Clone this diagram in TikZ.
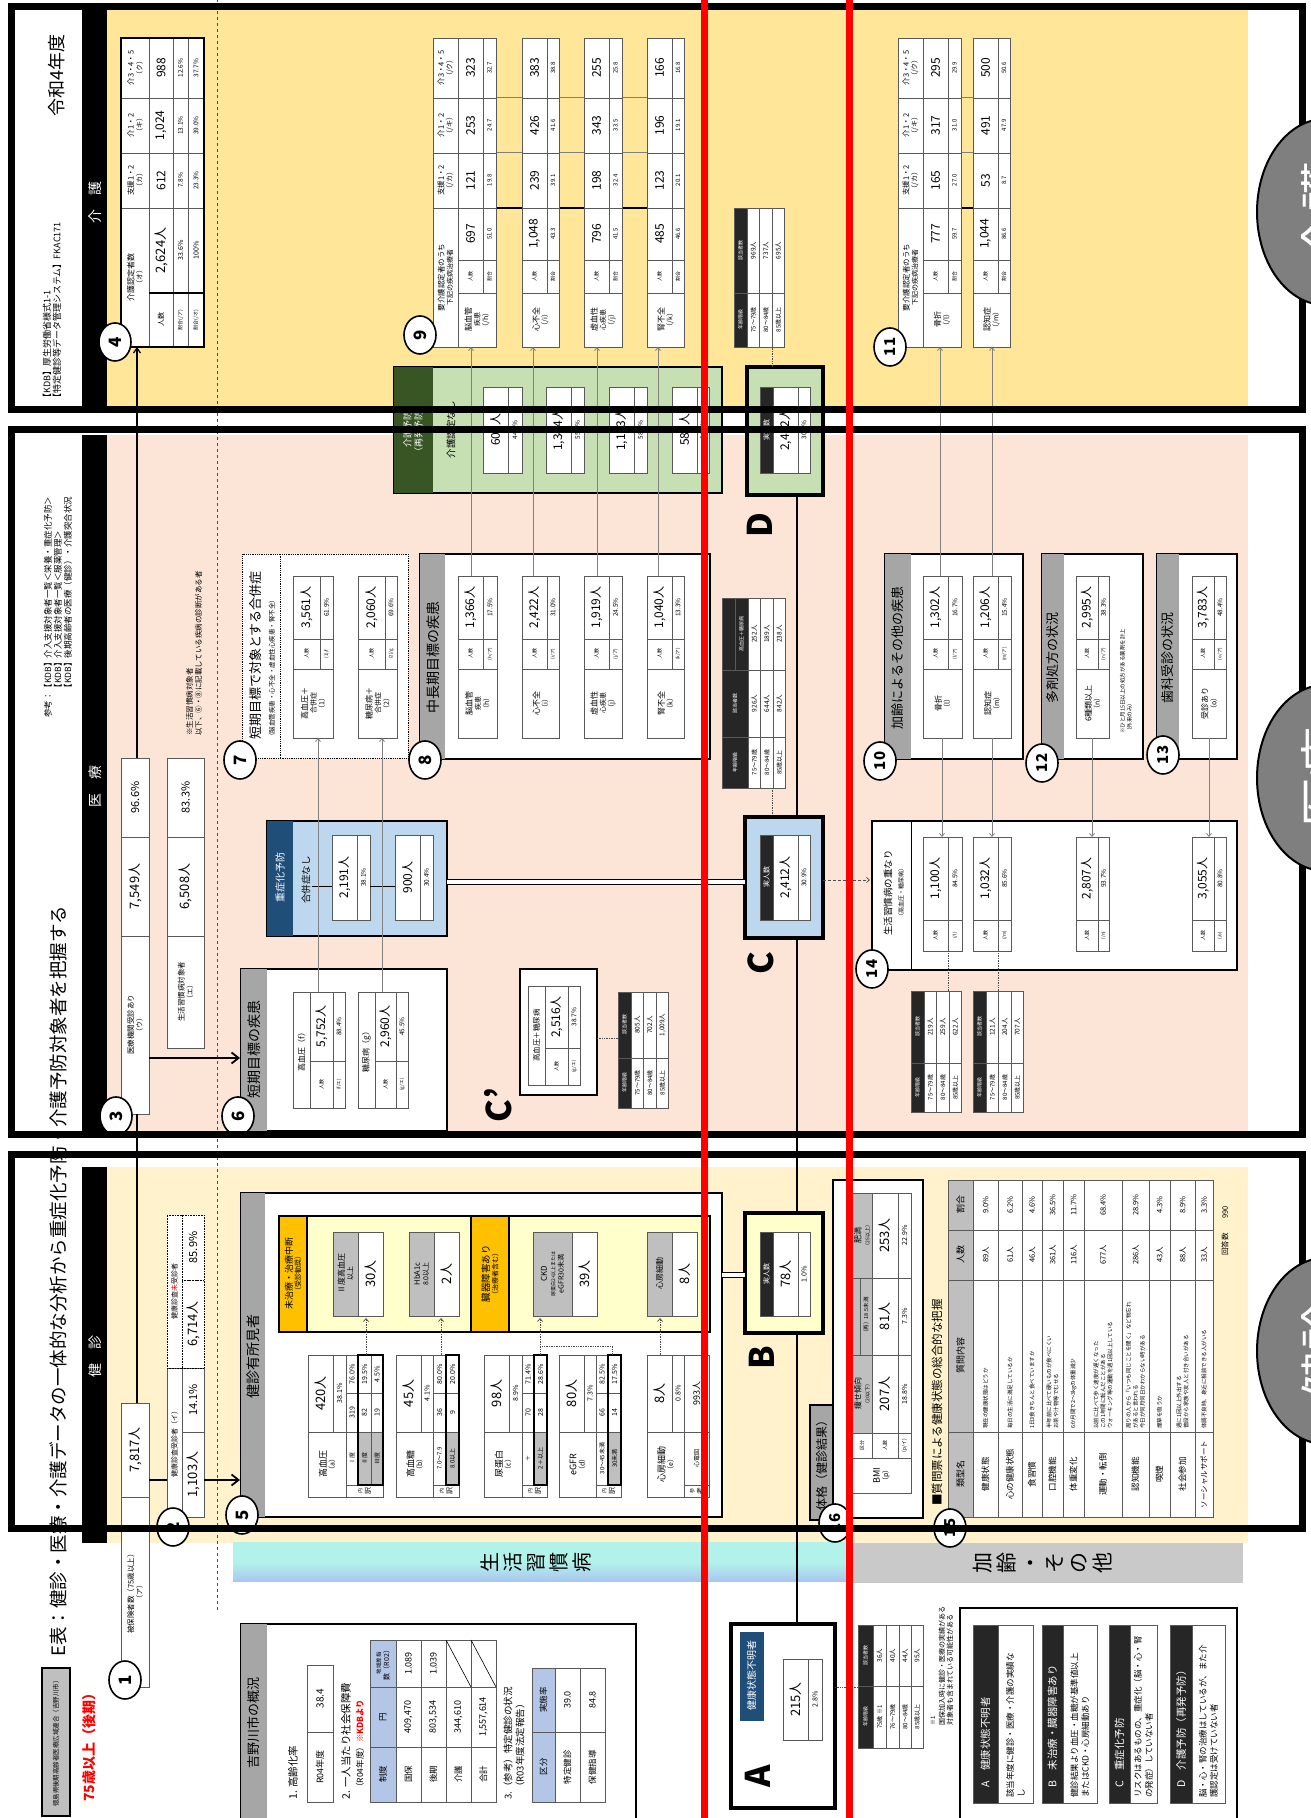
\documentclass[tikz,border=0pt]{standalone}
\usepackage{fontspec}
\setmainfont{Noto Sans CJK JP}
\usetikzlibrary{positioning,arrows.meta,shapes.geometric}

\definecolor{kcream}{HTML}{FFF2CC}
\definecolor{kpink}{HTML}{FCE4D6}
\definecolor{kyellow}{HTML}{FFE699}
\definecolor{korange}{HTML}{FFC000}
\definecolor{klyellow}{HTML}{FFFFCC}
\definecolor{khead}{HTML}{BFBFBF}
\definecolor{kgrayhd}{HTML}{A6A6A6}
\definecolor{kdblue}{HTML}{1F4E79}
\definecolor{klblue}{HTML}{BDD7EE}
\definecolor{kdgreen}{HTML}{375623}
\definecolor{klgreen}{HTML}{C6E0B4}
\definecolor{ktblue}{HTML}{B4C6E7}
\definecolor{kcyan}{HTML}{B2F2EA}
\definecolor{kband}{HTML}{A9C4F0}
\definecolor{kgray}{HTML}{C9C9C9}
\definecolor{kell}{HTML}{7F7F7F}
\definecolor{kdark}{HTML}{262626}

\newcommand\fz[1]{\fontsize{#1}{\fpeval{1.2*#1}}\selectfont}
% table cell: [opts]{u1}{r1}{u2}{r2}{text}
\newcommand\cel[6][]{\draw[tb,#1] ({#2},{-(#3)}) rectangle ({#4},{-(#5)});
  \node[tt] at ({((#2)+(#4))/2},{-((#3)+(#5))/2}) {#6};}
% kaigo value column
\newcommand\kv[7]{\cel{#4}{#1}{#5}{#2}{\fz{12}#6}\cel{#4}{#2}{#5}{#3}{\fz{6}#7}}
\newcommand\kn[4]{\cel{1471}{#1}{1525}{#3}{\fz{8}#4}\cel{1525}{#1}{1558}{#2}{\fz{5}人数}\cel{1525}{#2}{1558}{#3}{\fz{5}割合}}
% iryo tables
\newcommand\ltab[7]{\cel{1080}{#1}{1149}{#3}{\fz{8}#4}\cel{1149}{#1}{1179}{#2}{\fz{5}人数}\cel{1149}{#2}{1179}{#3}{\fz{4.5}#5}\cel{1179}{#1}{1242}{#2}{\fz{12}#6}\cel{1179}{#2}{1242}{#3}{\fz{6.5}#7}}
\newcommand\otab[6]{\cel{867}{#1}{898}{#2}{\fz{5}人数}\cel{867}{#2}{898}{#3}{\fz{4.5}#4}\cel{898}{#1}{981}{#2}{\fz{12}#5}\cel{898}{#2}{981}{#3}{\fz{6.5}#6}}
\newcommand\atab[7]{\cel[fill=kdark]{#1}{#4}{#2}{#4+13}{\textcolor{white}{\fz{5}年齢階級}}%
  \cel[fill=kdark]{#2}{#4}{#3}{#4+13}{\textcolor{white}{\fz{5}該当者数}}%
  \cel{#1}{#4+13}{#2}{#4+25.5}{\fz{6}75～79歳}\cel{#2}{#4+13}{#3}{#4+25.5}{\fz{6.5}#5}%
  \cel{#1}{#4+25.5}{#2}{#4+38}{\fz{6}80～84歳}\cel{#2}{#4+25.5}{#3}{#4+38}{\fz{6.5}#6}%
  \cel{#1}{#4+38}{#2}{#4+50.5}{\fz{6}85歳以上}\cel{#2}{#4+38}{#3}{#4+50.5}{\fz{6.5}#7}}
% kenshin risk tables
\newcommand\rhead[7]{\cel{321}{#1}{386}{#3}{\fz{9}#5}\cel{386}{#1}{463}{#2}{\fz{13}#6}\cel{386}{#2}{463}{#3}{\fz{7}#7}\cel{321}{#3}{333}{#4}{\fz{5}内\\訳}}
\newcommand\rrow[6][]{\cel[#1]{333}{#2}{386}{#3}{\fz{6}#4}\cel{386}{#2}{425}{#3}{\fz{7}#5}\cel{425}{#2}{463}{#3}{\fz{7}#6}}
% questionnaire row
\newcommand\qrow[6]{\cel{301}{#1}{386}{#2}{\fz{8.5}#3}\draw[tb] (386,-#1) rectangle (538,-#2);
  \node[tt, anchor=west, align=left, font=\fontsize{5.5}{7}\selectfont] at (389,{-(#1+#2)/2}) {#4};
  \cel{538}{#1}{588}{#2}{\fz{7.5}#5}\cel{588}{#1}{638}{#2}{\fz{7.5}#6}}
% legend item
\newcommand\lgd[6]{\cel[fill=kdark]{15}{#1}{193}{#2}{}\node[tt, anchor=west, text=white, font=\fz{10.5}] at (30,{-(#1+#2)/2}) {#5};
  \cel{15}{#2}{193}{#3}{}\node[tt, anchor=west, align=left, font=\fontsize{8.5}{11}\selectfont] at (20,{-(#2+#3)/2}) {#6};}

\begin{document}
\begin{tikzpicture}[x=1pt,y=1pt,
  tb/.style={draw=black!65, line width=0.6, fill=white},
  tt/.style={inner sep=0, align=center, font=\fz{7}},
  cn/.style={ellipse, draw, line width=1.6, fill=white, minimum width=38, minimum height=32, inner sep=0, font=\fz{17}\bfseries},
  big/.style={inner sep=0, font=\fz{34}\bfseries},
  band/.style={text=white, inner sep=0, font=\fz{14}},
  frame/.style={draw, line width=7},
  gline/.style={draw=black!50, line width=0.8},
  garrow/.style={gline, -{Straight Barb[length=3,width=5]}},
  dotl/.style={draw=black!70, line width=0.7, densely dashed},
  ell/.style={ellipse, draw, line width=2, fill=kell, minimum width=186, minimum height=136, text=white, font=\fz{50}},
  redl/.style={draw=red, line width=7},
]
\useasboundingbox (0,0) rectangle (1311,1818);
\fill[white] (0,0) rectangle (1311,1818);
\begin{scope}[rotate=90, transform shape]
% ---- backgrounds
\fill[kcream] (275,-107) rectangle (651,-1248);
\fill[kpink] (681,-107) rectangle (1383,-1248);
\fill[kyellow] (1408,-107) rectangle (1813,-1248);
\fill[black] (275,-82) rectangle (651,-107);
\fill[black] (681,-82) rectangle (1383,-107);
\fill[black] (1408,-82) rectangle (1813,-107);
\node[band] (bkenshin) at (461,-95) {健　診};
\node[band] (biryo) at (1031,-95) {医　療};
\node[band] (bkaigo) at (1615,-95) {介　護};
\shade[top color=kcyan, bottom color=kband, middle color=kcyan] (236,-233) rectangle (275,-847);
\node[tt, font=\fontsize{20}{23}\selectfont] (tseikatsu) at (255,-536) {生\\活\\習\\慣\\病};
\fill[kgray] (235,-852) rectangle (275,-1243);
\node[tt, font=\fontsize{21}{24}\selectfont] (tkarei) at (255,-1043) {加\\齢\\・\\そ\\の\\他};
\draw[dotl, dashed] (208,-217) -- (1818,-217);

% ---- title block
\node[anchor=west, inner sep=0, font=\fz{18.5}] (title) at (161,-58) {E表：健診・医療・介護データの一体的な分析から重症化予防・介護予防対象者を把握する};
\draw[fill=khead, line width=1.5] (2,-42) rectangle (150,-70);
\node[tt, font=\fz{6.5}] (pref) at (76,-56) {徳島県後期高齢者医療広域連合（吉野川市）};
\node[anchor=west, inner sep=0, text=red, font=\fz{14}\bfseries] (age75) at (16,-89) {75歳以上（後期）};
\node[anchor=west, inner sep=0, align=left, font=\fontsize{8.5}{10}\selectfont] (kdbref) at (1100,-58) {参考：【KDB】介入支援対象者一覧＜栄養・重症化予防＞\\\phantom{参考：}【KDB】介入支援対象者一覧＜服薬管理＞\\\phantom{参考：}【KDB】後期高齢者の医療（健診）・介護突合状況};
\node[anchor=west, inner sep=0, align=left, font=\fontsize{9}{10}\selectfont] (kdbsrc) at (1415,-52) {【KDB】厚生労働省様式1-1\\【特定健診等データ管理システム】FKAC171};
\node[inner sep=0, font=\fz{18}] (year) at (1742,-57) {令和4年度};

% ---- node 1, 2
\cel{131}{121}{321}{149}{\fz{7.5}被保険者数（75歳以上）\\（ア）}
\cel{321}{121}{415}{149}{\fz{13}7,817人}
\cel{301}{167}{450}{182}{\fz{7}健康診査受診者（イ）}
\cel{301}{182}{386}{204}{\fz{13}1,103人}
\cel{386}{182}{450}{204}{\fz{11}14.1\%}
\cel[densely dotted, draw=black]{450}{167}{603}{182}{\fz{7}健康診査\textcolor{red}{未}受診者}
\cel[densely dotted, draw=black]{450}{182}{538}{204}{\fz{13}6,714人}
\cel[densely dotted, draw=black]{538}{182}{603}{204}{\fz{11}85.9\%}
\coordinate (n1e) at (415,-137);
\coordinate (n1b) at (338,-149);
\coordinate (n2t) at (338,-167);
\coordinate (n2b) at (338,-204);
\coordinate (k5t) at (338,-240);
\draw[line width=1.2] (n1b) -- (n2t);
\draw[line width=1.8, -{Straight Barb[length=7,width=11]}] (n2b) -- (k5t);

% ---- node 3 (iryo)
\cel{704}{121}{882}{149}{\fz{7.5}医療機関受診あり\\（ウ）}
\cel{882}{121}{981}{149}{\fz{13}7,549人}
\cel{981}{121}{1060}{149}{\fz{11}96.6\%}
\cel{770}{167}{882}{204}{\fz{7.5}生活習慣病対象者\\（エ）}
\cel{882}{167}{981}{204}{\fz{13}6,508人}
\cel{981}{167}{1060}{204}{\fz{11}83.3\%}
\node[anchor=west, inner sep=0, align=left, font=\fontsize{7.5}{9}\selectfont] (note3) at (1082,-194) {※生活習慣病対象者\\以下、⑥・⑧に記載している疾病の診断がある者};
\coordinate (n3w) at (704,-137);
\coordinate (n3e) at (1060,-137);
\coordinate (n3b) at (760,-149);
\coordinate (k6t) at (760,-240);
\draw[line width=1.2] (n1e) -- (n3w);
\draw[line width=1.2, -{Straight Barb[length=5,width=7]}] (n3e) -- (1471,-137);
\draw[line width=1.8, -{Straight Barb[length=7,width=11]}] (n3b) -- (k6t);

% ---- node 4 (kaigo nintei)
\cel{1471}{121}{1610}{149}{\fz{8}介護認定者数\\（オ）}
\cel{1471}{149}{1525}{173}{\fz{7}人数}
\cel{1525}{149}{1610}{173}{\fz{13}2,624人}
\cel{1471}{173}{1525}{188}{\fz{5}割合(/ア)}
\cel{1525}{173}{1610}{188}{\fz{7}33.6\%}
\cel{1471}{188}{1525}{204}{\fz{5}割合(/オ)}
\cel{1525}{188}{1610}{204}{\fz{7}100\%}
\cel{1610}{121}{1665}{149}{\fz{7.5}支援1・2\\（カ）}
\cel{1665}{121}{1720}{149}{\fz{7.5}介1・2\\（キ）}
\cel{1720}{121}{1780}{149}{\fz{7.5}介3・4・5\\（ク）}
\cel{1610}{149}{1665}{173}{\fz{12}612}
\cel{1665}{149}{1720}{173}{\fz{12}1,024}
\cel{1720}{149}{1780}{173}{\fz{12}988}
\cel{1610}{173}{1665}{188}{\fz{6.5}7.8\%}
\cel{1665}{173}{1720}{188}{\fz{6.5}13.1\%}
\cel{1720}{173}{1780}{188}{\fz{6.5}12.6\%}
\cel{1610}{188}{1665}{204}{\fz{6.5}23.3\%}
\cel{1665}{188}{1720}{204}{\fz{6.5}39.0\%}
\cel{1720}{188}{1780}{204}{\fz{6.5}37.7\%}
\draw[line width=2] (1471,-121) rectangle (1780,-204);
\draw[line width=2] (1525,-149) -- (1525,-204);

% ---- node 9 / 11 (kaigo diseases)
\draw[black!50, line width=0.8] (1666,-458) -- (1666,-684) (1721,-458) -- (1721,-684);
\draw[line width=1.2] (1610,-458) -- (1610,-684);
\cel{1471}{433}{1610}{458}{\fz{7.5}要介護認定者のうち\\下記の疾病治療者}
\cel{1610}{433}{1665}{458}{\fz{7.5}支援1・2\\（/カ）}
\cel{1665}{433}{1720}{458}{\fz{7.5}介1・2\\（/キ）}
\cel{1720}{433}{1780}{458}{\fz{7.5}介3・4・5\\（/ク）}
\kn{458}{483}{496}{脳血管\\疾患\\（/h）}
\kv{458}{483}{496}{1558}{1610}{697}{51.0}\kv{458}{483}{496}{1610}{1665}{121}{19.8}
\kv{458}{483}{496}{1665}{1720}{253}{24.7}\kv{458}{483}{496}{1720}{1780}{323}{32.7}
\kn{522}{547}{559}{心不全\\（/i）}
\kv{522}{547}{559}{1558}{1610}{1,048}{43.3}\kv{522}{547}{559}{1610}{1665}{239}{39.1}
\kv{522}{547}{559}{1665}{1720}{426}{41.6}\kv{522}{547}{559}{1720}{1780}{383}{38.8}
\kn{584}{609}{622}{虚血性\\心疾患\\（/j）}
\kv{584}{609}{622}{1558}{1610}{796}{41.5}\kv{584}{609}{622}{1610}{1665}{198}{32.4}
\kv{584}{609}{622}{1665}{1720}{343}{33.5}\kv{584}{609}{622}{1720}{1780}{255}{25.8}
\kn{647}{672}{684}{腎不全\\（/k）}
\kv{647}{672}{684}{1558}{1610}{485}{46.6}\kv{647}{672}{684}{1610}{1665}{123}{20.1}
\kv{647}{672}{684}{1665}{1720}{196}{19.1}\kv{647}{672}{684}{1720}{1780}{166}{16.8}
\draw[black!50, line width=0.8] (1666,-923) -- (1666,-1010) (1721,-923) -- (1721,-1010);
\draw[line width=1.2] (1610,-923) -- (1610,-1010);
\cel{1471}{898}{1610}{923}{\fz{7.5}要介護認定者のうち\\下記の疾病治療者}
\cel{1610}{898}{1665}{923}{\fz{7.5}支援1・2\\（/カ）}
\cel{1665}{898}{1720}{923}{\fz{7.5}介1・2\\（/キ）}
\cel{1720}{898}{1780}{923}{\fz{7.5}介3・4・5\\（/ク）}
\kn{923}{948}{961}{骨折\\（/l）}
\kv{923}{948}{961}{1558}{1610}{777}{59.7}\kv{923}{948}{961}{1610}{1665}{165}{27.0}
\kv{923}{948}{961}{1665}{1720}{317}{31.0}\kv{923}{948}{961}{1720}{1780}{295}{29.9}
\kn{973}{998}{1010}{認知症\\（/m）}
\kv{973}{998}{1010}{1558}{1610}{1,044}{86.6}\kv{973}{998}{1010}{1610}{1665}{53}{8.7}
\kv{973}{998}{1010}{1665}{1720}{491}{47.9}\kv{973}{998}{1010}{1720}{1780}{500}{50.6}
\atab{1471}{1525}{1610}{734}{969人}{737人}{695人}

% ---- kaigo yobo (green) and D
\draw[line width=2, fill=klgreen] (1325,-394) rectangle (1451,-722);
\fill[kdgreen] (1325,-394) rectangle (1451,-433);
\node[tt, text=white, font=\fz{9}] (kyobo) at (1388,-413) {介護予防\\（再発予防）};
\node[tt, font=\fz{9.5}] (knashi) at (1388,-451) {介護認定なし};
\cel{1345}{483}{1431}{508}{\fz{12}609人}\cel{1345}{508}{1431}{522}{\fz{6.5}44.6\%}
\cel{1345}{546}{1431}{571}{\fz{12}1,344人}\cel{1345}{571}{1431}{584}{\fz{6.5}55.5\%}
\cel{1345}{609}{1431}{634}{\fz{12}1,113人}\cel{1345}{634}{1431}{647}{\fz{6.5}58.0\%}
\cel{1345}{672}{1431}{697}{\fz{12}585人}\cel{1345}{697}{1431}{709}{\fz{6.5}56.3\%}
\draw[line width=4, fill=klgreen] (1323,-747) rectangle (1451,-823);
\cel[fill=kdark]{1345}{760}{1431}{773}{\textcolor{white}{\fz{7}実人数}}
\cel{1345}{773}{1431}{798}{\fz{12}2,412人}\cel{1345}{798}{1431}{810}{\fz{6.5}30.9\%}
\node[big] (lD) at (1293,-760) {D};
\draw[dotl, densely dotted] (1451,-772) -- (1471,-772);

% ---- node 6 and C'
\draw[line width=1.5, fill=white] (687,-241) rectangle (849,-447);
\fill[kgrayhd] (687,-241) rectangle (849,-267);
\node[tt, font=\fz{14}] (h6) at (768,-254) {短期目標の疾患};
\cel{710}{293}{826}{310}{\fz{8}高血圧（f）}
\cel{710}{310}{757}{333}{\fz{5}人数}\cel{757}{310}{826}{333}{\fz{12}5,752人}
\cel{710}{333}{757}{345}{\fz{4.5}(f/エ)}\cel{757}{333}{826}{345}{\fz{6.5}88.4\%}
\cel{710}{358}{826}{375}{\fz{8}糖尿病（g）}
\cel{710}{375}{757}{396}{\fz{5}人数}\cel{757}{375}{826}{396}{\fz{12}2,960人}
\cel{710}{396}{757}{408}{\fz{4.5}(g/エ)}\cel{757}{396}{826}{408}{\fz{6.5}45.5\%}
\draw[line width=1.5, fill=white] (723,-520) rectangle (849,-597);
\cel{733}{528}{832}{545}{\fz{7.5}高血圧＋糖尿病}
\cel{733}{545}{770}{568}{\fz{5}人数}\cel{770}{545}{832}{568}{\fz{12}2,516人}
\cel{733}{568}{770}{580}{\fz{4.5}(g/エ)}\cel{770}{568}{832}{580}{\fz{6.5}38.7\%}
\atab{710}{760}{826}{618}{805人}{702人}{1,009人}
\draw[dotl, densely dotted] (780,-597) -- (780,-618);
\node[big] (lCd) at (713,-498) {C'};

% ---- juushouka yobo
\draw[line width=2, fill=klblue] (882,-267) rectangle (997,-447);
\fill[kdblue] (882,-267) rectangle (997,-293);
\node[tt, text=white, font=\fz{10}] (hjyu) at (940,-280) {重症化予防};
\node[tt, font=\fz{9.5}] (gnashi) at (938,-306) {合併症なし};
\cel{898}{332}{983}{357}{\fz{12}2,191人}\cel{898}{357}{983}{370}{\fz{6.5}38.1\%}
\cel{898}{395}{983}{420}{\fz{12}900人}\cel{898}{420}{983}{433}{\fz{6.5}30.4\%}
\draw[line width=0.8] (932,-312) -- (932,-332) (932,-370) -- (932,-395);

% ---- node 7
\draw[line width=0.8, densely dotted, fill=white] (1060,-242) rectangle (1264,-408);
\draw[line width=0.8, densely dotted] (1060,-280) -- (1264,-280);
\node[anchor=west, inner sep=0, font=\fz{13}] (h7) at (1078,-256) {短期目標で対象とする合併症};
\node[anchor=west, inner sep=0, font=\fz{6.5}] (s7) at (1078,-272) {（脳血管疾患・心不全・虚血性心疾患・腎不全）};
\ltab{293}{320}{333}{高血圧＋\\合併症\\（1）}{(1)/f}{3,561人}{61.9\%}
\ltab{358}{385}{397}{糖尿病＋\\合併症\\（2）}{(2)/g}{2,060人}{69.6\%}

% ---- node 8
\draw[line width=1.5, fill=white] (1059,-420) rectangle (1264,-710);
\fill[kgrayhd] (1059,-420) rectangle (1264,-445);
\node[tt, font=\fz{14}] (h8) at (1160,-433) {中長期目標の疾患};
\ltab{458}{483}{497}{脳血管\\疾患\\（h）}{(h/ア)}{1,366人}{17.5\%}
\ltab{522}{547}{559}{心不全\\（i）}{(i/ア)}{2,422人}{31.0\%}
\ltab{584}{609}{622}{虚血性\\心疾患\\（j）}{(j/ア)}{1,919人}{24.5\%}
\ltab{647}{672}{684}{腎不全\\（k）}{(k/ア)}{1,040人}{13.3\%}

% ---- C age table and C box
\cel[fill=kdark]{1030}{722}{1081}{748}{\textcolor{white}{\fz{5}年齢階級}}
\cel[fill=kdark]{1081}{722}{1148}{748}{\textcolor{white}{\fz{5}該当者数}}
\cel[fill=kdark]{1148}{722}{1220}{735}{}
\cel[fill=kdark]{1148}{735}{1220}{748}{\textcolor{white}{\fz{5}高血圧＋糖尿病}}
\cel{1030}{748}{1081}{760.5}{\fz{6}75～79歳}\cel{1081}{748}{1148}{760.5}{\fz{6.5}926人}\cel{1148}{748}{1220}{760.5}{\fz{6.5}252人}
\cel{1030}{760.5}{1081}{773}{\fz{6}80～84歳}\cel{1081}{760.5}{1148}{773}{\fz{6.5}644人}\cel{1148}{760.5}{1220}{773}{\fz{6.5}189人}
\cel{1030}{773}{1081}{785.5}{\fz{6}85歳以上}\cel{1081}{773}{1148}{785.5}{\fz{6.5}842人}\cel{1148}{773}{1220}{785.5}{\fz{6.5}238人}
\draw[dotl, densely dotted] (1030,-772) -- (1001,-772);
\draw[line width=4, fill=klblue] (880,-745) rectangle (1001,-823);
\cel[fill=kdark]{898}{760}{983}{773}{\textcolor{white}{\fz{7}実人数}}
\cel{898}{773}{983}{798}{\fz{12}2,412人}\cel{898}{798}{983}{810}{\fz{6.5}30.9\%}
\node[big] (lC) at (855,-761) {C};
\draw[double, double distance=4.5, line width=1.2] (936,-447) -- (936,-745);
\draw[dotl, -{Straight Barb[length=3,width=5]}] (938,-823) -- (938,-870);

% ---- node 10, 12, 13
\draw[line width=1.5, fill=white] (1059,-885) rectangle (1264,-1023);
\fill[kgrayhd] (1059,-885) rectangle (1264,-911);
\node[tt, font=\fz{13}] (h10) at (1160,-898) {加齢によるその他の疾患};
\ltab{923}{948}{962}{骨折\\（l）}{(l/ア)}{1,302人}{16.7\%}
\ltab{973}{998}{1011}{認知症\\（m）}{(m/ア)}{1,206人}{15.4\%}
\draw[line width=1.5, fill=white] (1059,-1042) rectangle (1264,-1143);
\fill[kgrayhd] (1059,-1042) rectangle (1264,-1064);
\node[tt, font=\fz{13}] (h12) at (1160,-1053) {多剤処方の状況};
\ltab{1076}{1098}{1109}{6種類以上\\（n）}{(n/ア)}{2,995人}{38.3\%}
\node[anchor=west, inner sep=0, align=left, font=\fontsize{5.5}{7}\selectfont] (note12) at (1084,-1126) {※ひと月15日以上の処方がある薬剤を計上\\（外来のみ）};
\draw[line width=1.5, fill=white] (1059,-1157) rectangle (1264,-1237);
\fill[kgrayhd] (1059,-1157) rectangle (1264,-1179);
\node[tt, font=\fz{13}] (h13) at (1160,-1168) {歯科受診の状況};
\ltab{1192}{1214}{1226}{受診あり\\（o）}{(o/ア)}{3,783人}{48.4\%}

% ---- node 14
\draw[line width=1.5, fill=white] (848,-872) rectangle (997,-1237);
\draw[line width=1] (848,-911) -- (997,-911);
\node[tt, font=\fz{9.5}] (h14) at (925,-888) {生活習慣病の重なり};
\node[tt, font=\fz{6}] (s14) at (925,-901) {（高血圧・糖尿病）};
\otab{923}{948}{962}{(/l)}{1,100人}{84.5\%}
\otab{973}{998}{1011}{(/m)}{1,032人}{85.6\%}
\otab{1076}{1098}{1109}{(/n)}{2,807人}{93.7\%}
\otab{1192}{1214}{1226}{(/o)}{3,055人}{80.8\%}
\atab{706}{755}{827}{911}{219人}{259人}{622人}
\atab{706}{755}{827}{973}{121人}{204人}{707人}
\draw[dotl, densely dotted] (827,-948) -- (867,-948) (827,-998) -- (867,-998);

% ---- iryo connectors
\draw[garrow] (826,-318) -- (1080,-318);
\draw[garrow] (826,-382) -- (1080,-382);
\draw[garrow] (1242,-471) -- (1471,-471);
\draw[garrow] (1242,-533) -- (1471,-533);
\draw[garrow] (1242,-597) -- (1471,-597);
\draw[garrow] (1242,-658) -- (1471,-658);
\draw[garrow] (1242,-940) -- (1471,-940);
\draw[garrow] (1242,-992) -- (1471,-992);
\draw[garrow] (1080,-942) -- (981,-942);
\draw[garrow] (1080,-992) -- (981,-992);
\draw[garrow] (1080,-1092) -- (981,-1092);
\draw[garrow] (1080,-1209) -- (981,-1209);

% ---- kenshin box 5
\draw[line width=1.5, fill=white] (301,-241) rectangle (625,-722);
\fill[kgrayhd] (301,-241) rectangle (625,-265);
\node[tt, font=\fz{14}] (h5) at (461,-253) {健診有所見者};
\draw[line width=2, fill=klyellow] (486,-279) rectangle (602,-710);
\cel[fill=korange, draw=black, line width=1.5]{486}{279}{602}{307}{\fz{9}未治療・治療中断\\\fz{7}（受診勧奨）}
\cel[fill=korange, draw=black, line width=1.5]{486}{471}{602}{509}{\fz{9.5}臓器障害あり\\（治療者含む）}
\cel[fill=khead]{502}{333}{586}{358}{\fz{8}Ⅱ度高血圧\\以上}
\cel{502}{358}{586}{383}{\fz{13}30人}
\cel[fill=khead]{502}{409}{586}{434}{\fz{7.5}HbA1c\\8.0以上}
\cel{502}{434}{586}{459}{\fz{13}2人}
\cel[fill=khead]{502}{533}{586}{572}{\fz{8}CKD\\\fz{5}尿蛋白2+以上または\\eGFR30未満}
\cel{502}{572}{586}{597}{\fz{13}39人}
\cel[fill=khead]{502}{647}{586}{672}{\fz{8}心房細動}
\cel{502}{672}{586}{697}{\fz{13}8人}
\rhead{308}{333}{346}{383}{高血圧\\（a）}{420人}{38.1\%}
\rrow{346}{358}{Ⅰ度}{319}{76.0\%}
\rrow[fill=khead]{358}{371}{Ⅱ度}{82}{19.5\%}
\rrow[fill=khead]{371}{383}{Ⅲ度}{19}{4.5\%}
\draw[line width=1.5] (333,-358) rectangle (463,-383);
\rhead{396}{421}{433}{459}{高血糖\\（b）}{45人}{4.1\%}
\rrow{433}{446}{7.0～7.9}{36}{80.0\%}
\rrow[fill=khead]{446}{459}{8.0以上}{9}{20.0\%}
\draw[line width=1.5] (333,-446) rectangle (463,-459);
\rhead{484}{509}{522}{547}{尿蛋白\\（c）}{98人}{8.9\%}
\rrow{522}{534}{＋}{70}{71.4\%}
\rrow[fill=khead]{534}{547}{2＋以上}{28}{28.6\%}
\draw[line width=1.5] (333,-534) rectangle (463,-547);
\rhead{559}{584}{596}{621}{eGFR\\（d）}{80人}{7.3\%}
\rrow{596}{608}{30～45未満}{66}{82.5\%}
\rrow[fill=khead]{608}{621}{30未満}{14}{17.5\%}
\draw[line width=1.5] (333,-608) rectangle (463,-621);
\cel{321}{647}{386}{684}{\fz{9}心房細動\\（e）}
\cel{386}{647}{463}{672}{\fz{13}8人}
\cel{386}{672}{463}{684}{\fz{7}0.8\%}
\cel{321}{684}{333}{709}{\fz{5}参\\考}
\cel{333}{684}{386}{709}{\fz{6}心電図}
\cel{386}{684}{463}{709}{\fz{9}993人}
\draw[dotl, densely dotted, -{Straight Barb[length=3,width=5]}] (463,-366) -- (500,-366);
\draw[dotl, densely dotted, -{Straight Barb[length=3,width=5]}] (463,-441) -- (500,-441);
\draw[dotl, densely dotted, -{Straight Barb[length=3,width=5]}] (463,-540) -- (500,-540);
\draw[dotl, densely dotted] (463,-612) -- (472,-612) -- (472,-540);
\draw[dotl, densely dotted, -{Straight Barb[length=3,width=5]}] (463,-660) -- (500,-660);

% ---- B box
\draw[line width=4, fill=klyellow] (485,-745) rectangle (605,-823);
\cel[fill=kdark]{502}{760}{586}{773}{\textcolor{white}{\fz{7}実人数}}
\cel{502}{773}{586}{798}{\fz{13}78人}
\cel{502}{798}{586}{810}{\fz{7}1.0\%}
\node[big] (lB) at (460,-762) {B};
\draw[double, double distance=4.5, line width=1.2] (543,-722) -- (543,-745);
\draw[line width=1.5] (1323,-797) -- (1001,-797) (880,-797) -- (605,-797) (485,-797) -- (194,-797);

% ---- body size (16)
\draw[line width=1.5, fill=white] (300,-833) rectangle (638,-923);
\cel[fill=kgrayhd, draw=black, line width=1.2]{298}{810}{413}{833}{\fz{12}体格（健診結果）}
\cel{325}{852}{360}{911}{\fz{9}BMI\\（p）}
\cel{360}{852}{385}{872}{\fz{5}区分}
\cel{360}{872}{385}{898}{\fz{5}人数}
\cel{360}{898}{385}{911}{\fz{5}(p/イ)}
\fill[khead] (463,-852) rectangle (540,-860);
\cel[fill=khead]{385}{852}{463}{872}{\fz{8}痩せ傾向\\\fz{5}（20以下）}
\cel{385}{872}{463}{898}{\fz{13}207人}
\cel{385}{898}{463}{911}{\fz{7}18.8\%}
\cel[fill=khead]{463}{860}{540}{872}{\fz{5.5}（再）18.5未満}
\cel{463}{872}{540}{898}{\fz{13}81人}
\cel{463}{898}{540}{911}{\fz{7}7.3\%}
\cel[fill=khead]{540}{852}{625}{872}{\fz{8}肥満\\\fz{5}（25以上）}
\cel{540}{872}{625}{898}{\fz{13}253人}
\cel{540}{898}{625}{911}{\fz{7}22.9\%}

% ---- questionnaire (15)
\node[anchor=west, inner sep=0, font=\fz{11.5}] (h15) at (312,-937) {■質問票による健康状態の総合的な把握};
\cel[fill=khead]{301}{948}{386}{973}{\fz{9}類型名}
\cel[fill=khead]{386}{948}{538}{973}{\fz{9}質問内容}
\cel[fill=khead]{538}{948}{588}{973}{\fz{9}人数}
\cel[fill=khead]{588}{948}{638}{973}{\fz{9}割合}
\qrow{973}{998}{健康状態}{現在の健康状態はどうか}{89人}{9.0\%}
\qrow{998}{1022}{心の健康状態}{毎日の生活に満足しているか}{61人}{6.2\%}
\qrow{1022}{1042}{食習慣}{1日3食きちんと食べていますか}{46人}{4.6\%}
\qrow{1042}{1063}{口腔機能}{半年前に比べて硬いものが食べにくい\\お茶や汁物等でむせる}{361人}{36.5\%}
\qrow{1063}{1084}{体重変化}{6か月間で2～3kgの体重減少}{116人}{11.7\%}
\qrow{1084}{1122}{運動・転倒}{以前に比べて歩く速度が遅くなった\\この1年間に転んだことがある\\ウォーキング等の運動を週1回以上している}{677人}{68.4\%}
\qrow{1122}{1149}{認知機能}{周りの人から「いつも同じことを聞く」など物忘れ\\があると言われる\\今日が何月何日かわからない時がある}{286人}{28.9\%}
\qrow{1149}{1170}{喫煙}{煙草を吸うか}{43人}{4.3\%}
\qrow{1170}{1195}{社会参加}{週に1回以上外出する\\普段から家族や友人と付き合いがある}{88人}{8.9\%}
\qrow{1195}{1213}{\fz{7.5}ソーシャルサポート}{体調不良時、身近に相談できる人がいる}{33人}{3.3\%}
\node[tt, font=\fz{7.5}] (kaitou) at (587,-1225) {回答数　　990};

% ---- Yoshinogawa overview
\draw[line width=1.5, fill=white] (-5,-241) rectangle (194,-636);
\fill[kgrayhd] (-5,-241) rectangle (194,-267);
\node[tt, font=\fz{13}] (hyoshi) at (95,-254) {吉野川市の概況};
\node[anchor=west, inner sep=0, font=\fz{10.5}] (y1) at (18,-293) {1. 高齢化率};
\cel{16}{307}{86}{333}{\fz{9}R04年度}
\cel{86}{307}{153}{333}{\fz{10}38.4}
\node[anchor=west, inner sep=0, font=\fz{10.5}] (y2) at (18,-346) {2. 一人当たり社会保障費};
\node[anchor=west, inner sep=0, font=\fz{8.5}] (y2b) at (26,-360) {（R04年度）\textcolor{red}{\bfseries ※KDBより}};
\cel[fill=ktblue]{16}{370}{71}{396}{\fz{8.5}制度}
\cel[fill=ktblue]{71}{370}{131}{396}{\fz{8.5}円}
\cel[fill=ktblue]{131}{370}{178}{396}{\fz{5.5}地域差指\\数（R02）}
\cel{16}{396}{71}{421}{\fz{8.5}国保}\cel{71}{396}{131}{421}{\fz{9}409,470}\cel{131}{396}{178}{421}{\fz{9}1.089}
\cel{16}{421}{71}{446}{\fz{8.5}後期}\cel{71}{421}{131}{446}{\fz{9}803,534}\cel{131}{421}{178}{446}{\fz{9}1.039}
\cel{16}{446}{71}{471}{\fz{8.5}介護}\cel{71}{446}{131}{471}{\fz{9}344,610}\cel{131}{446}{178}{471}{}
\cel{16}{471}{71}{496}{\fz{8.5}合計}\cel{71}{471}{131}{496}{\fz{9}1,557,614}\cel{131}{471}{178}{496}{}
\draw[line width=0.6] (131,-471) -- (178,-446) (131,-496) -- (178,-471);
\node[anchor=west, inner sep=0, align=left, font=\fontsize{9.5}{12}\selectfont] (y3) at (18,-514) {3.（参考）特定健診の状況\\\phantom{3.}（R03年度法定報告）};
\cel[fill=ktblue]{16}{532}{86}{555}{\fz{8.5}区分}
\cel[fill=ktblue]{86}{532}{150}{555}{\fz{8.5}実施率}
\cel{16}{555}{86}{580}{\fz{8.5}特定健診}\cel{86}{555}{150}{580}{\fz{9}39.0}
\cel{16}{580}{86}{605}{\fz{8.5}保健指導}\cel{86}{580}{150}{605}{\fz{9}84.8}

% ---- A box
\draw[line width=4, fill=white] (10,-731) rectangle (194,-835);
\cel[fill=kdblue, draw=kdblue]{98}{740}{186}{763}{\textcolor{white}{\fz{10}健康状態不明者}}
\cel{78}{783}{159}{808}{\fz{13}215人}
\cel{78}{808}{159}{822}{\fz{7}2.8\%}
\node[big] (lA) at (42,-758) {A};
\cel[fill=kdark]{70}{858}{132}{873}{\textcolor{white}{\fz{5}年齢階級}}
\cel[fill=kdark]{132}{858}{193}{873}{\textcolor{white}{\fz{5}該当者数}}
\cel{70}{873}{132}{886}{\fz{6}75歳 ※1}\cel{132}{873}{193}{886}{\fz{6.5}36人}
\cel{70}{886}{132}{899}{\fz{6}76～79歳}\cel{132}{886}{193}{899}{\fz{6.5}40人}
\cel{70}{899}{132}{911}{\fz{6}80～84歳}\cel{132}{899}{193}{911}{\fz{6.5}44人}
\cel{70}{911}{132}{923}{\fz{6}85歳以上}\cel{132}{911}{193}{923}{\fz{6.5}95人}
\draw[dotl, densely dotted] (131,-835) -- (131,-858);
\node[anchor=west, inner sep=0, font=\fz{6}] (note1a) at (92,-933) {※1};
\node[anchor=west, inner sep=0, align=left, font=\fontsize{7}{8}\selectfont] (note1) at (92,-946) {国保加入時に健診・医療の実績がある\\対象者も含まれている可能性がある};

% ---- legend
\draw[line width=1.5, fill=white] (-5,-960) rectangle (210,-1237);
\lgd{973}{998}{1033}{A}{A　健康状態不明者}{該当年度に健診・医療・介護の実績な\\し}
\lgd{1042}{1063}{1097}{B}{B　未治療・臓器障害あり}{健診結果より血圧・血糖が基準値以上\\またはCKD・心房細動あり}
\lgd{1109}{1130}{1157}{C}{C　重症化予防}{リスクはあるものの、重症化（脳・心・腎\\の発症）していない者}
\lgd{1170}{1192}{1225}{D}{D　介護予防（再発予防）}{脳・心・腎の治療はしているが、また介\\護認定は受けていない者}

% ---- numbered circles
\node[cn] (c1) at (138,-125) {1};
\node[cn] (c2) at (291,-173) {2};
\node[cn] (c3) at (702,-116) {3};
\node[cn] (c4) at (1476,-115) {4};
\node[cn] (c5) at (303,-242) {5};
\node[cn] (c6) at (702,-238) {6};
\node[cn] (c7) at (1058,-240) {7};
\node[cn] (c8) at (1058,-425) {8};
\node[cn] (c9) at (1483,-420) {9};
\node[cn, font=\fz{15}\bfseries] (c10) at (1057,-880) {10};
\node[cn, font=\fz{15}\bfseries] (c11) at (1471,-890) {11};
\node[cn, font=\fz{15}\bfseries] (c12) at (1055,-1042) {12};
\node[cn, font=\fz{15}\bfseries] (c13) at (1063,-1163) {13};
\node[cn, font=\fz{15}\bfseries] (c14) at (849,-872) {14};
\node[cn, font=\fz{15}\bfseries] (c15) at (290,-950) {15};
\node[cn, font=\fz{15}\bfseries] (c16) at (295,-835) {16};

% ---- frames, ellipses, red lines
\draw[frame] (289,-11) rectangle (663,-1302);
\draw[frame] (683,-11) rectangle (1388,-1302);
\draw[frame] (1408,-11) rectangle (1811,-1302);
\node[ell] (ekaigo) at (1606,-1325) {介護};
\node[ell] (eiryo) at (1040,-1325) {医療};
\node[ell] (ekenshin) at (467,-1325) {健診};
\draw[redl] (0,-704) -- (1818,-704);
\draw[redl] (0,-849) -- (1818,-849);
\end{scope}
\end{tikzpicture}
\end{document}
